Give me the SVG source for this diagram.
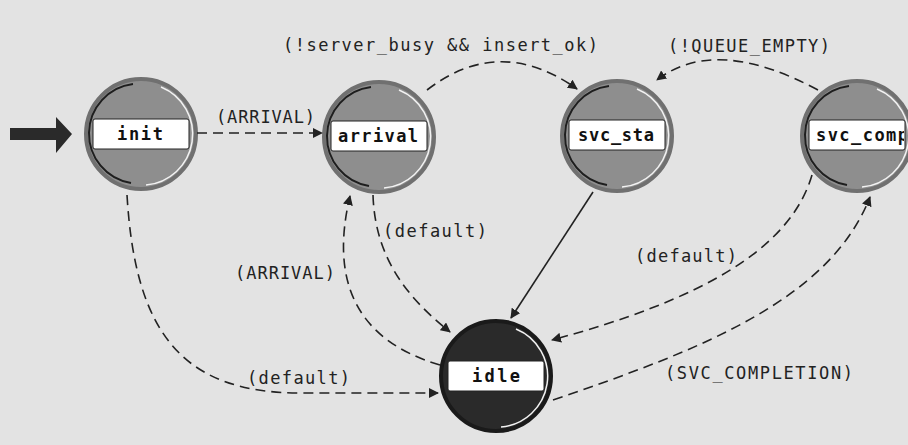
<svg xmlns="http://www.w3.org/2000/svg" xmlns:xlink="http://www.w3.org/1999/xlink" width="908" height="445" viewBox="0 0 908 445">
<style>
.bg{fill:#e3e3e3}
.band{fill:#ffffff;stroke:#222;stroke-width:1}
.nlabel{font-family:"DejaVu Sans Mono","Liberation Mono",monospace;font-size:17px;font-weight:bold;fill:#111;text-anchor:middle}
.elabel{font-family:"DejaVu Sans Mono","Liberation Mono",monospace;font-size:17px;fill:#222}
.edge{fill:none;stroke:#222;stroke-width:1.6;stroke-dasharray:10 6}
.solid{fill:none;stroke:#222;stroke-width:1.6}
</style>
<defs>
<marker id="ah" viewBox="0 0 10 10" refX="9" refY="5" markerWidth="10" markerHeight="10" markerUnits="userSpaceOnUse" orient="auto">
<path d="M0,0 L10,5 L0,10 z" fill="#222"/>
</marker>
<symbol id="ball" viewBox="-58 -58 116 116" width="116" height="116" overflow="visible">
<circle r="55" fill="#8e8e8e" stroke="#707070" stroke-width="4"/>
<path d="M-8,-50 A50,50 0 0 0 -10,49" fill="none" stroke="#1e1e1e" stroke-width="2"/>
<path d="M20,-47 A51,51 0 0 1 5,51" fill="none" stroke="#f2f2f2" stroke-width="1.5"/>
</symbol>
<symbol id="darkball" viewBox="-58 -58 116 116" width="116" height="116" overflow="visible">
<circle r="55" fill="#2a2a2a" stroke="#1a1a1a" stroke-width="4"/>
<path d="M20,-47 A51,51 0 0 1 5,51" fill="none" stroke="#f2f2f2" stroke-width="1.5"/>
</symbol>
<clipPath id="compclip"><rect x="808" y="121" width="96" height="30"/></clipPath>
</defs>
<rect class="bg" x="0" y="0" width="908" height="445"/>

<g id="entry">
<path d="M10,128 L56,128 L56,117 L72,134 L56,153 L56,140 L10,140 z" fill="#2a2a2a"/>
</g>

<g id="init">
<use xlink:href="#ball" x="83" y="76"/>
<rect class="band" x="93" y="119" width="96" height="30" rx="2"/>
<text class="nlabel" x="140" y="140" textLength="46">init</text>
</g>

<g id="arrival">
<use xlink:href="#ball" x="321" y="79"/>
<rect class="band" x="331" y="121" width="96" height="30" rx="2"/>
<text class="nlabel" x="378" y="142" textLength="80">arrival</text>
</g>

<g id="svc_sta">
<use xlink:href="#ball" x="559" y="78"/>
<rect class="band" x="569" y="120" width="96" height="30" rx="2"/>
<text class="nlabel" x="616" y="141" textLength="76">svc_sta</text>
</g>

<g id="svc_comp">
<use xlink:href="#ball" x="799" y="78"/>
<rect class="band" x="809" y="120" width="96" height="30" rx="2"/>
<text class="nlabel" x="862" y="141" textLength="92" clip-path="url(#compclip)">svc_comp</text>
</g>

<g id="idle">
<use xlink:href="#darkball" x="438" y="318"/>
<rect class="band" x="448" y="361" width="96" height="30" rx="2"/>
<text class="nlabel" x="496" y="382" textLength="48">idle</text>
</g>

<g id="connectors">
<path class="edge" d="M197,133 L322,133" marker-end="url(#ah)"/>
<path class="edge" d="M427,90 Q500,34 577,89" marker-end="url(#ah)"/>
<path class="edge" d="M818,90 Q715,35 657,80" marker-end="url(#ah)"/>
<path class="solid" d="M593,192 L511,318" marker-end="url(#ah)"/>
<path class="edge" d="M812,175 C790,250 700,300 552,340" marker-end="url(#ah)"/>
<path class="edge" d="M553,400 C700,350 830,300 870,197" marker-end="url(#ah)"/>
<path class="edge" d="M373,195 C375,260 410,300 450,332" marker-end="url(#ah)"/>
<path class="edge" d="M440,365 C355,340 330,280 350,196" marker-end="url(#ah)"/>
<path class="edge" d="M127,195 C135,330 180,393 300,393 L438,393" marker-end="url(#ah)"/>
</g>

<g id="edge-labels">
<text class="elabel" x="216" y="123" textLength="99">(ARRIVAL)</text>
<text class="elabel" x="283" y="51" textLength="315">(!server_busy &amp;&amp; insert_ok)</text>
<text class="elabel" x="668" y="52" textLength="162">(!QUEUE_EMPTY)</text>
<text class="elabel" x="383" y="237" textLength="104">(default)</text>
<text class="elabel" x="235" y="279" textLength="100">(ARRIVAL)</text>
<text class="elabel" x="635" y="262" textLength="102">(default)</text>
<text class="elabel" x="247" y="384" textLength="103">(default)</text>
<text class="elabel" x="665" y="379" textLength="188">(SVC_COMPLETION)</text>
</g>
</svg>
